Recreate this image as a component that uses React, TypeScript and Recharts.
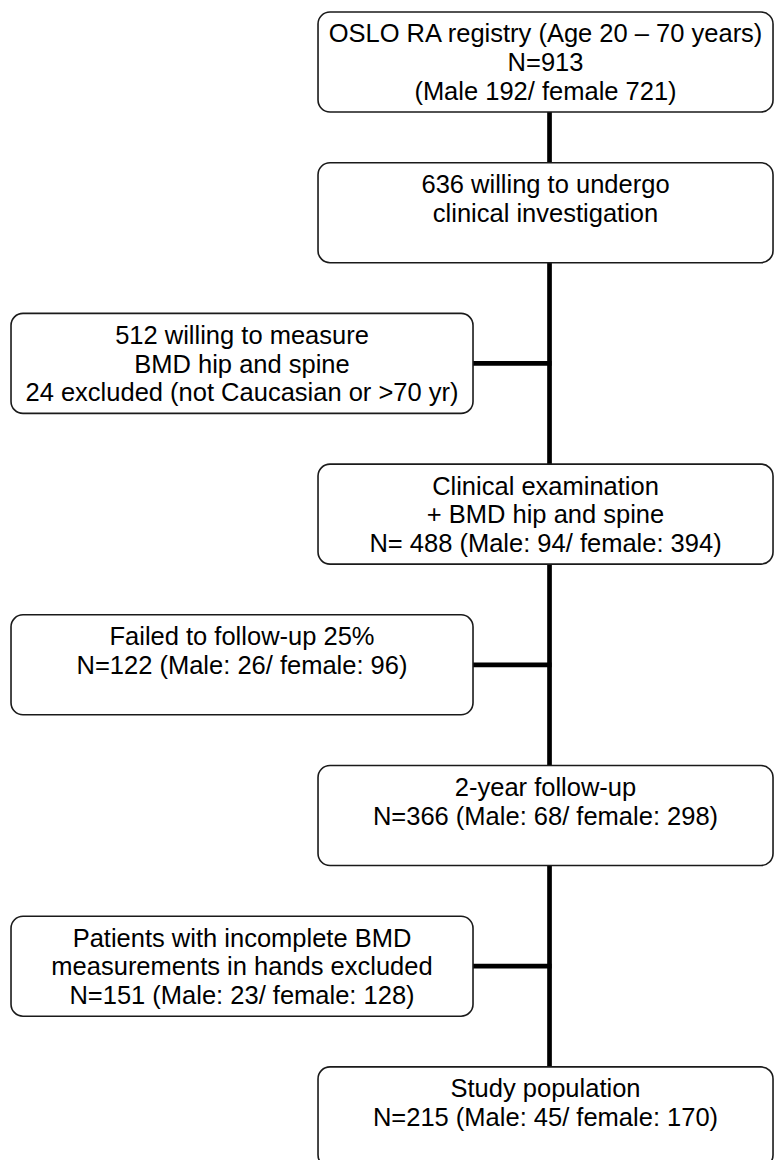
import { ScatterChart, Scatter, XAxis, YAxis, ReferenceLine } from 'recharts';

// flow steps, top to bottom; col 0 = exclusion boxes on the left, col 1 = main flow on the right
const stepRows = [0, 1, 2, 3, 4, 5, 6, 7];
const stepColumns = [1, 1, 0, 1, 0, 1, 0, 1];
const stepLabels = [
  ['OSLO RA registry (Age 20 – 70 years)', 'N=913', '(Male 192/ female 721)'],
  ['636 willing to undergo', 'clinical investigation'],
  ['512 willing to measure', 'BMD hip and spine', '24 excluded (not Caucasian or >70 yr)'],
  ['Clinical examination', '+ BMD hip and spine', 'N= 488 (Male: 94/ female: 394)'],
  ['Failed to follow-up 25%', 'N=122 (Male: 26/ female: 96)'],
  ['2-year follow-up', 'N=366 (Male: 68/ female: 298)'],
  ['Patients with incomplete BMD', 'measurements in hands excluded', 'N=151 (Male: 23/ female: 128)'],
  ['Study population', 'N=215 (Male: 45/ female: 170)'],
];

const WIDTH = 774;
const HEIGHT = 1160;
const BOX_H = 100;
const BOX_W = [462, 455];
const TRUNK_DX = 4;
const FONT = '"Liberation Sans", Arial, Helvetica, sans-serif';

const steps = stepRows.map((row, i) => ({ row, col: stepColumns[i], lines: stepLabels[i] }));
const mainSteps = steps.filter(s => s.col === 1);
const sideSteps = steps.filter(s => s.col === 0);

const StepBox = (props: any) => {
  const { cx, cy, payload } = props;
  const w = BOX_W[payload.col];
  const top = cy - BOX_H / 2;
  return (
    <g>
      <rect x={cx - w / 2} y={top} width={w} height={BOX_H} rx={12} ry={12} fill="#fff" stroke="#1a1a1a" strokeWidth={1.6} />
      {payload.lines.map((line: string, i: number) => (
        <text key={i} x={cx} y={top + 30.5 + i * 28.8} textAnchor="middle" fontFamily={FONT} fontSize={25.5} fill="#000">
          {line}
        </text>
      ))}
    </g>
  );
};

// vertical piece between two main boxes, trimmed to the box edges
const TrunkPiece = (props: any) => {
  const { x1, y1, y2 } = props;
  return <line x1={x1 + TRUNK_DX} x2={x1 + TRUNK_DX} y1={y1 + BOX_H / 2} y2={y2 - BOX_H / 2} stroke="#000" strokeWidth={4.7} />;
};

// horizontal piece from a side box to the trunk
const SidePiece = (props: any) => {
  const { x1, x2, y1 } = props;
  return <line x1={x1 + BOX_W[0] / 2} x2={x2 + TRUNK_DX + 2} y1={y1} y2={y1} stroke="#000" strokeWidth={4.7} />;
};

export default function App() {
  return (
    <div style={{ position: 'absolute', left: 0, top: 0, width: WIDTH, height: HEIGHT, background: '#fff' }}>
      <ScatterChart width={WIDTH} height={HEIGHT} margin={{ top: 0, right: 0, bottom: 0, left: 0 }}>
        <XAxis type="number" dataKey="col" domain={[-0.7974, 1.7528]} hide allowDataOverflow />
        <YAxis type="number" dataKey="row" domain={[-0.4114, 7.286]} reversed hide allowDataOverflow />
        {mainSteps.slice(1).map((s, i) => (
          <ReferenceLine
            key={`t${i}`}
            segment={[{ x: 1, y: mainSteps[i].row }, { x: 1, y: s.row }]}
            shape={TrunkPiece}
            ifOverflow="visible"
          />
        ))}
        {sideSteps.map((s, i) => (
          <ReferenceLine
            key={`s${i}`}
            segment={[{ x: 0, y: s.row }, { x: 1, y: s.row }]}
            shape={SidePiece}
            ifOverflow="visible"
          />
        ))}
        <Scatter data={steps} shape={StepBox} isAnimationActive={false} />
      </ScatterChart>
    </div>
  );
}
